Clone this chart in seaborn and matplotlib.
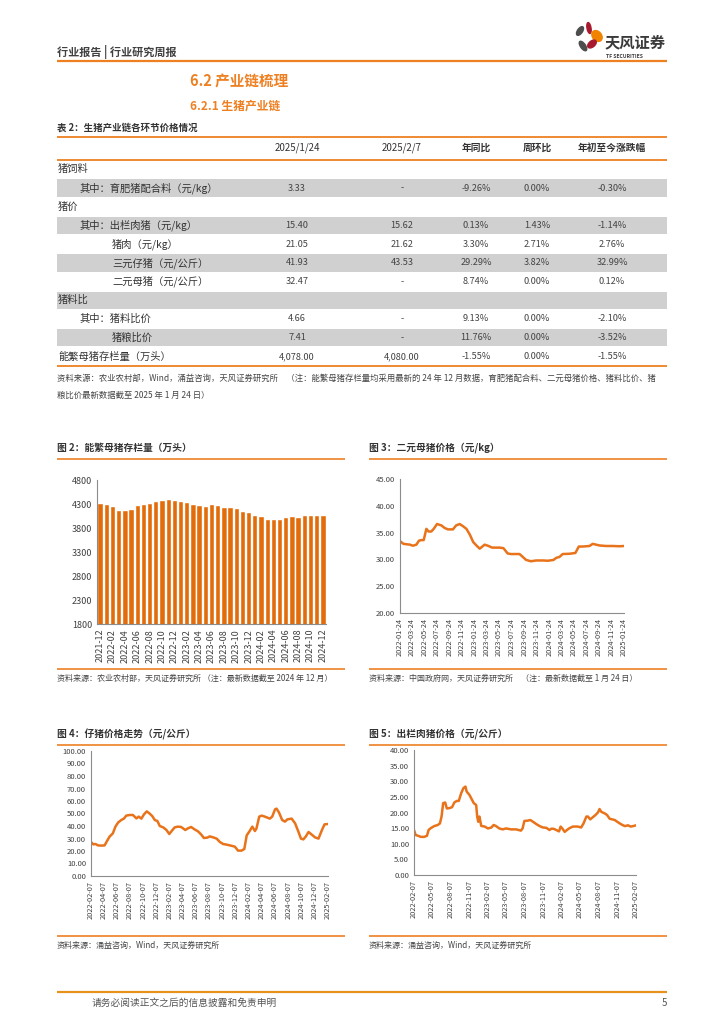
import numpy as np
import pandas as pd
import matplotlib
matplotlib.use("Agg")
import matplotlib.pyplot as plt
import matplotlib.patches as mpatches
import seaborn as sns

W, H = 724, 1024
ORANGE = "#EE8022"
BAR = "#E36C0A"
LINE = "#E8731A"
GRAY_ROW = "#D0D0D0"
TXT = "#333333"

# ---- table data ----
row_labels = ["猪饲料", "其中：育肥猪配合料（元/kg）", "猪价", "其中：出栏肉猪（元/kg）",
              "猪肉（元/kg）", "三元仔猪（元/公斤）", "二元母猪（元/公斤）", "猪料比",
              "其中：猪料比价", "猪粮比价", "能繁母猪存栏量（万头）"]
row_indent = [0, 1, 0, 1, 2, 2, 2, 0, 1, 2, 0]
col_headers = ["2025/1/24", "2025/2/7", "年同比", "周环比", "年初至今涨跌幅"]
col_0124 = ["", "3.33", "", "15.40", "21.05", "41.93", "32.47", "", "4.66", "7.41", "4,078.00"]
col_0207 = ["", "-", "", "15.62", "21.62", "43.53", "-", "", "-", "-", "4,080.00"]
col_yoy = ["", "-9.26%", "", "0.13%", "3.30%", "29.29%", "8.74%", "", "9.13%", "11.76%", "-1.55%"]
col_wow = ["", "0.00%", "", "1.43%", "2.71%", "3.82%", "0.00%", "", "0.00%", "0.00%", "0.00%"]
col_ytd = ["", "-0.30%", "", "-1.14%", "2.76%", "32.99%", "0.12%", "", "-2.10%", "-3.52%", "-1.55%"]

# ---- fig 2: sow inventory (10k head) ----
sow_months = ["2021-12", "2022-01", "2022-02", "2022-03", "2022-04", "2022-05", "2022-06",
              "2022-07", "2022-08", "2022-09", "2022-10", "2022-11", "2022-12",
              "2023-01", "2023-02", "2023-03", "2023-04", "2023-05", "2023-06",
              "2023-07", "2023-08", "2023-09", "2023-10", "2023-11", "2023-12",
              "2024-01", "2024-02", "2024-03", "2024-04", "2024-05", "2024-06",
              "2024-07", "2024-08", "2024-09", "2024-10", "2024-11", "2024-12"]
sow_values = [4329, 4290, 4268, 4185, 4177, 4192, 4277, 4298, 4324, 4362, 4379, 4394, 4390,
              4367, 4343, 4305, 4284, 4258, 4296, 4271, 4241, 4240, 4210, 4158, 4142,
              4067, 4042, 3992, 3986, 3996, 4038, 4042, 4036, 4062, 4080, 4080, 4078]

# ---- fig 3: binary sow price ----
sow_price_dates = ["2022-01-24", "2022-02-10", "2022-03-14", "2022-03-28", "2022-04-14", "2022-04-27",
                   "2022-05-08", "2022-05-20", "2022-06-02", "2022-06-13", "2022-06-26", "2022-07-08",
                   "2022-07-24", "2022-08-14", "2022-08-31", "2022-09-16", "2022-10-10", "2022-10-26",
                   "2022-11-12", "2022-11-28", "2022-12-15", "2023-01-01", "2023-01-17", "2023-02-02",
                   "2023-02-18", "2023-03-03", "2023-03-14", "2023-03-30", "2023-04-20", "2023-05-25",
                   "2023-06-14", "2023-07-05", "2023-07-21", "2023-09-01", "2023-09-17", "2023-10-03",
                   "2023-10-27", "2023-11-21", "2023-12-24", "2024-01-18", "2024-02-14", "2024-02-28",
                   "2024-03-14", "2024-03-30", "2024-05-02", "2024-05-31", "2024-06-17", "2024-07-06",
                   "2024-08-08", "2024-08-24", "2024-09-26", "2024-10-29", "2024-11-30", "2025-01-02",
                   "2025-01-24"]
sow_price_values = [33.4, 32.9, 32.75, 32.55, 32.75, 33.5, 33.6, 33.6, 35.7, 35.2, 35.2, 35.7,
                    36.6, 36.35, 35.85, 35.6, 35.6, 36.35, 36.6, 36.2, 35.7, 34.6, 33.25, 32.6,
                    32.0, 32.4, 32.75, 32.55, 32.2, 32.2, 32.1, 31.1, 31.0, 31.0, 30.45, 29.9,
                    29.65, 29.8, 29.8, 29.75, 29.9, 30.3, 30.45, 31.0, 31.05, 31.2, 32.4, 32.4,
                    32.5, 32.9, 32.6, 32.5, 32.5, 32.45, 32.5]
sow_price_ticks = ["2022-01-24", "2022-03-24", "2022-05-24", "2022-07-24", "2022-09-24", "2022-11-24",
                   "2023-01-24", "2023-03-24", "2023-05-24", "2023-07-24", "2023-09-24", "2023-11-24",
                   "2024-01-24", "2024-03-24", "2024-05-24", "2024-07-24", "2024-09-24", "2024-11-24",
                   "2025-01-24"]

# ---- fig 4: piglet price ----
piglet_dates = ["2022-02-07", "2022-02-18", "2022-02-28", "2022-03-11", "2022-03-26", "2022-04-11",
                "2022-04-23", "2022-05-04", "2022-05-19", "2022-05-31", "2022-06-12", "2022-06-27",
                "2022-07-09", "2022-07-20", "2022-08-05", "2022-08-20", "2022-09-05", "2022-09-16",
                "2022-09-28", "2022-10-10", "2022-10-23", "2022-11-04", "2022-11-17", "2022-11-29",
                "2022-12-11", "2022-12-22", "2023-01-07", "2023-01-22", "2023-02-04", "2023-02-15",
                "2023-03-01", "2023-03-16", "2023-03-31", "2023-04-19", "2023-05-01", "2023-05-16",
                "2023-06-01", "2023-06-17", "2023-07-02", "2023-07-14", "2023-07-30", "2023-08-10",
                "2023-08-26", "2023-09-11", "2023-09-26", "2023-10-11", "2023-10-27", "2023-11-11",
                "2023-12-04", "2023-12-19", "2024-01-04", "2024-01-17", "2024-01-28", "2024-02-09",
                "2024-02-23", "2024-03-06", "2024-03-13", "2024-03-26", "2024-04-06", "2024-04-21",
                "2024-05-14", "2024-05-25", "2024-06-07", "2024-06-14", "2024-06-25", "2024-07-10",
                "2024-07-23", "2024-08-03", "2024-08-23", "2024-09-08", "2024-09-23", "2024-10-05",
                "2024-10-16", "2024-10-27", "2024-11-09", "2024-11-24", "2024-12-09", "2024-12-25",
                "2025-01-10", "2025-01-22", "2025-02-07"]
piglet_values = [27.2, 25.3, 25.6, 24.5, 24.3, 24.5, 28.3, 31.5, 34.1, 39.5, 42.7, 44.8,
                 45.9, 48.3, 48.8, 48.8, 46.1, 47.5, 45.9, 49.3, 51.7, 50.1, 48.0, 44.8,
                 44.0, 40.0, 38.9, 36.8, 33.6, 36.0, 38.9, 39.5, 39.2, 36.8, 38.1, 39.2,
                 37.3, 35.7, 33.1, 30.4, 30.7, 31.7, 30.9, 29.9, 27.2, 25.6, 25.1, 24.5,
                 23.5, 20.3, 20.3, 21.6, 32.5, 35.5, 39.5, 36.0, 37.9, 47.5, 48.3, 47.5,
                 45.9, 47.5, 53.3, 53.9, 50.9, 44.8, 43.5, 45.3, 45.9, 42.1, 35.5, 29.9,
                 29.3, 31.5, 35.2, 33.1, 30.9, 29.9, 36.8, 41.3, 41.6]
piglet_ticks = ["2022-02-07", "2022-04-07", "2022-06-07", "2022-08-07", "2022-10-07", "2022-12-07",
                "2023-02-07", "2023-04-07", "2023-06-07", "2023-08-07", "2023-10-07", "2023-12-07",
                "2024-02-07", "2024-04-07", "2024-06-07", "2024-08-07", "2024-10-07", "2024-12-07",
                "2025-02-07"]

# ---- fig 5: finished hog price ----
hog_dates = ["2022-02-07", "2022-02-15", "2022-02-27", "2022-03-13", "2022-03-29", "2022-04-12",
             "2022-04-20", "2022-05-01", "2022-05-18", "2022-06-04", "2022-06-15", "2022-06-23",
             "2022-07-01", "2022-07-11", "2022-07-19", "2022-07-31", "2022-08-14", "2022-08-25",
             "2022-09-06", "2022-09-16", "2022-09-28", "2022-10-09", "2022-10-19", "2022-10-25",
             "2022-11-08", "2022-11-21", "2022-11-29", "2022-12-11", "2022-12-16", "2022-12-21",
             "2022-12-27", "2023-01-05", "2023-01-22", "2023-02-07", "2023-02-24", "2023-03-07",
             "2023-03-18", "2023-04-04", "2023-04-21", "2023-05-07", "2023-06-01", "2023-06-26",
             "2023-07-20", "2023-07-28", "2023-08-06", "2023-08-23", "2023-09-04", "2023-09-17",
             "2023-10-04", "2023-10-20", "2023-11-06", "2023-11-22", "2023-12-08", "2023-12-16",
             "2023-12-28", "2024-01-10", "2024-01-24", "2024-02-01", "2024-02-09", "2024-02-21",
             "2024-03-03", "2024-03-16", "2024-04-01", "2024-04-26", "2024-05-12", "2024-05-24",
             "2024-06-07", "2024-06-15", "2024-06-26", "2024-07-09", "2024-07-22", "2024-08-03",
             "2024-08-11", "2024-08-20", "2024-09-06", "2024-09-17", "2024-09-30", "2024-10-13",
             "2024-10-25", "2024-11-06", "2024-11-19", "2024-12-02", "2024-12-14", "2024-12-30",
             "2025-01-11", "2025-01-24", "2025-02-07"]
hog_values = [14.4, 12.8, 12.55, 12.2, 12.2, 12.55, 14.4, 15.0, 15.65, 16.0, 16.5, 18.7,
              23.0, 23.2, 21.3, 21.4, 21.7, 23.2, 23.7, 23.7, 26.2, 27.8, 28.3, 26.7,
              25.6, 24.0, 23.0, 22.4, 18.7, 17.05, 18.7, 15.7, 15.5, 14.9, 15.2, 16.0,
              15.7, 14.9, 14.6, 14.9, 14.6, 14.6, 14.2, 14.9, 17.3, 17.4, 17.6, 17.05,
              16.3, 15.65, 15.2, 15.1, 14.4, 14.8, 14.8, 14.4, 13.95, 15.5, 14.9, 13.8,
              14.4, 15.0, 15.5, 15.5, 15.2, 16.5, 18.7, 18.7, 17.8, 18.5, 19.2, 20.0,
              21.1, 20.2, 19.7, 19.2, 18.0, 17.8, 17.6, 17.05, 16.5, 16.0, 15.65, 15.9,
              15.5, 15.65, 15.9]
hog_ticks = ["2022-02-07", "2022-05-07", "2022-08-07", "2022-11-07", "2023-02-07", "2023-05-07",
             "2023-08-07", "2023-11-07", "2024-02-07", "2024-05-07", "2024-08-07", "2024-11-07",
             "2025-02-07"]

sns.set_style("white")
plt.rcParams['font.family'] = ['Noto Sans CJK SC', 'DejaVu Sans']

fig = plt.figure(figsize=(7.24, 10.24), dpi=100)
bg = fig.add_axes([0, 0, 1, 1])
bg.set_xlim(0, W)
bg.set_ylim(H, 0)
bg.axis('off')


def ax_at(x0, y0, x1, y1):
    return fig.add_axes([x0 / W, 1 - y1 / H, (x1 - x0) / W, (y1 - y0) / H])


def hline(y, x0, x1, lw=1.3, color=ORANGE):
    bg.plot([x0, x1], [y, y], color=color, lw=lw, solid_capstyle='butt')


def txt(x, y, s, size=7, color=TXT, ha='left', weight='normal'):
    bg.text(x, y, s, fontsize=size, color=color, ha=ha, va='center', fontweight=weight)


# header
txt(57, 52, "行业报告 | 行业研究周报", size=8, weight='bold', color="#404040")
hline(61, 57, 667, lw=1.6)
# logo
bg.add_patch(mpatches.Ellipse((580, 31), 5, 10, angle=35, color="#4D4D4D"))
bg.add_patch(mpatches.Ellipse((589, 28), 4, 11, angle=-10, color="#A8192E"))
bg.add_patch(mpatches.Ellipse((597, 36), 9, 12, angle=-40, color="#F08300"))
bg.add_patch(mpatches.Ellipse((583, 46), 5, 11, angle=-35, color="#4D4D4D"))
bg.add_patch(mpatches.Ellipse((592, 44), 6, 10, angle=50, color="#A8192E"))
txt(605, 42, "天风证券", size=11, weight='bold', color="#3A3A3A")
txt(606, 56, "TF SECURITIES", size=3.6, weight='bold', color="#3A3A3A")

# section titles
txt(190, 82, "6.2 产业链梳理", size=10.5, color=ORANGE, weight='bold')
txt(190, 106, "6.2.1 生猪产业链", size=8.5, color=ORANGE, weight='bold')

# table
txt(57, 128, "表 2：生猪产业链各环节价格情况", size=6.8, weight='bold')
hline(137, 57, 667)
col_x = [297, 402, 476, 537, 612]
for cx, h in zip(col_x, col_headers):
    txt(cx, 148, h, size=7, ha='center', weight='bold' if not h[0].isdigit() else 'normal')
hline(160, 57, 667)
row_top = 160
row_h = 18.7
indent_x = [58, 80, 112]
cols = [col_0124, col_0207, col_yoy, col_wow, col_ytd]
for i, lab in enumerate(row_labels):
    y0 = row_top + i * row_h
    yc = y0 + row_h / 2
    if i % 2 == 1:
        bg.add_patch(mpatches.Rectangle((57, y0 + 0.6), 610, row_h - 1.2, color=GRAY_ROW, lw=0))
    txt(indent_x[row_indent[i]], yc, lab, size=7.4)
    for cx, col in zip(col_x, cols):
        if col[i]:
            txt(cx, yc, col[i], size=6.6, ha='center', color="#444444")
hline(366, 57, 667)
txt(57, 378, "资料来源：农业农村部，Wind，涌益咨询，天风证券研究所　（注：能繁母猪存栏量均采用最新的 24 年 12 月数据，育肥猪配合料、二元母猪价格、猪料比价、猪",
    size=6.0, color="#444444")
txt(57, 395, "粮比价最新数据截至 2025 年 1 月 24 日）", size=6.0, color="#444444")

# chart frames
for (x0, x1, ty, t, sy, s) in [
        (57, 345, 448, "图 2：能繁母猪存栏量（万头）", 678, "资料来源：农业农村部，天风证券研究所 （注：最新数据截至 2024 年 12 月）"),
        (369, 667, 448, "图 3：二元母猪价格（元/kg）", 678, "资料来源：中国政府网，天风证券研究所　（注：最新数据截至 1 月 24 日）"),
        (57, 345, 734, "图 4：仔猪价格走势（元/公斤）", 945, "资料来源：涌益咨询，Wind，天风证券研究所"),
        (369, 667, 734, "图 5：出栏肉猪价格（元/公斤）", 945, "资料来源：涌益咨询，Wind，天风证券研究所")]:
    txt(x0, ty, t, size=7, weight='bold')
    hline(ty + 11, x0, x1, lw=1.2)
    hline(sy - 9, x0, x1, lw=1.2)
    txt(x0, sy, s, size=5.8, color="#444444")

# footer
hline(992, 57, 667, lw=1.6, color="#E8921E")
txt(92, 1003, "请务必阅读正文之后的信息披露和免责申明", size=7, color="#555555")
txt(662, 1003, "5", size=7, color="#555555")


def style_axis(ax, ysize=5.5, xsize=5.3):
    sns.despine(ax=ax)
    for sp in ['left', 'bottom']:
        ax.spines[sp].set_color("#8C8C8C")
        ax.spines[sp].set_linewidth(0.8)
    ax.tick_params(axis='both', direction='out', length=2, width=0.6, color="#8C8C8C",
                   colors="#404040", pad=1.5)
    ax.tick_params(axis='y', labelsize=ysize)
    ax.tick_params(axis='x', labelsize=xsize)
    ax.set_xlabel("")
    ax.set_ylabel("")
    ax.set_facecolor('none')


# fig 2 bars
ax2 = ax_at(97, 480, 326, 624)
df_sow = pd.DataFrame({'month': sow_months, 'value': sow_values})
sns.barplot(data=df_sow, x='month', y='value', color=BAR, saturation=1, width=0.86, ax=ax2)
ax2.set_ylim(1800, 4800)
ax2.set_yticks(range(1800, 4801, 500))
ax2.set_xlim(-0.5, len(sow_months) - 0.5)
ax2.set_xticks(range(0, len(sow_months), 2))
ax2.set_xticklabels(sow_months[::2], rotation=90)
style_axis(ax2, ysize=6.5, xsize=6.5)


def line_chart(ax, dates, values, ticks, ylim, ystep):
    df = pd.DataFrame({'date': pd.to_datetime(dates), 'value': values})
    sns.lineplot(data=df, x='date', y='value', color=LINE, lw=1.8, ax=ax)
    tk = pd.to_datetime(ticks)
    ax.set_xlim(tk[0], tk[-1])
    ax.set_xticks(tk)
    ax.set_xticklabels(ticks, rotation=90)
    ax.set_ylim(*ylim)
    yt = np.arange(ylim[0], ylim[1] + 0.01, ystep)
    ax.set_yticks(yt)
    ax.set_yticklabels([f"{v:.2f}" for v in yt])
    style_axis(ax)


ax3 = ax_at(400, 479, 624, 613)
line_chart(ax3, sow_price_dates, sow_price_values, sow_price_ticks, (20, 45), 5)
ax4 = ax_at(91, 751, 328, 876)
line_chart(ax4, piglet_dates, piglet_values, piglet_ticks, (0, 100), 10)
ax5 = ax_at(414, 750, 636, 875)
line_chart(ax5, hog_dates, hog_values, hog_ticks, (0, 40), 5)

fig.savefig("out.png", dpi=100)
